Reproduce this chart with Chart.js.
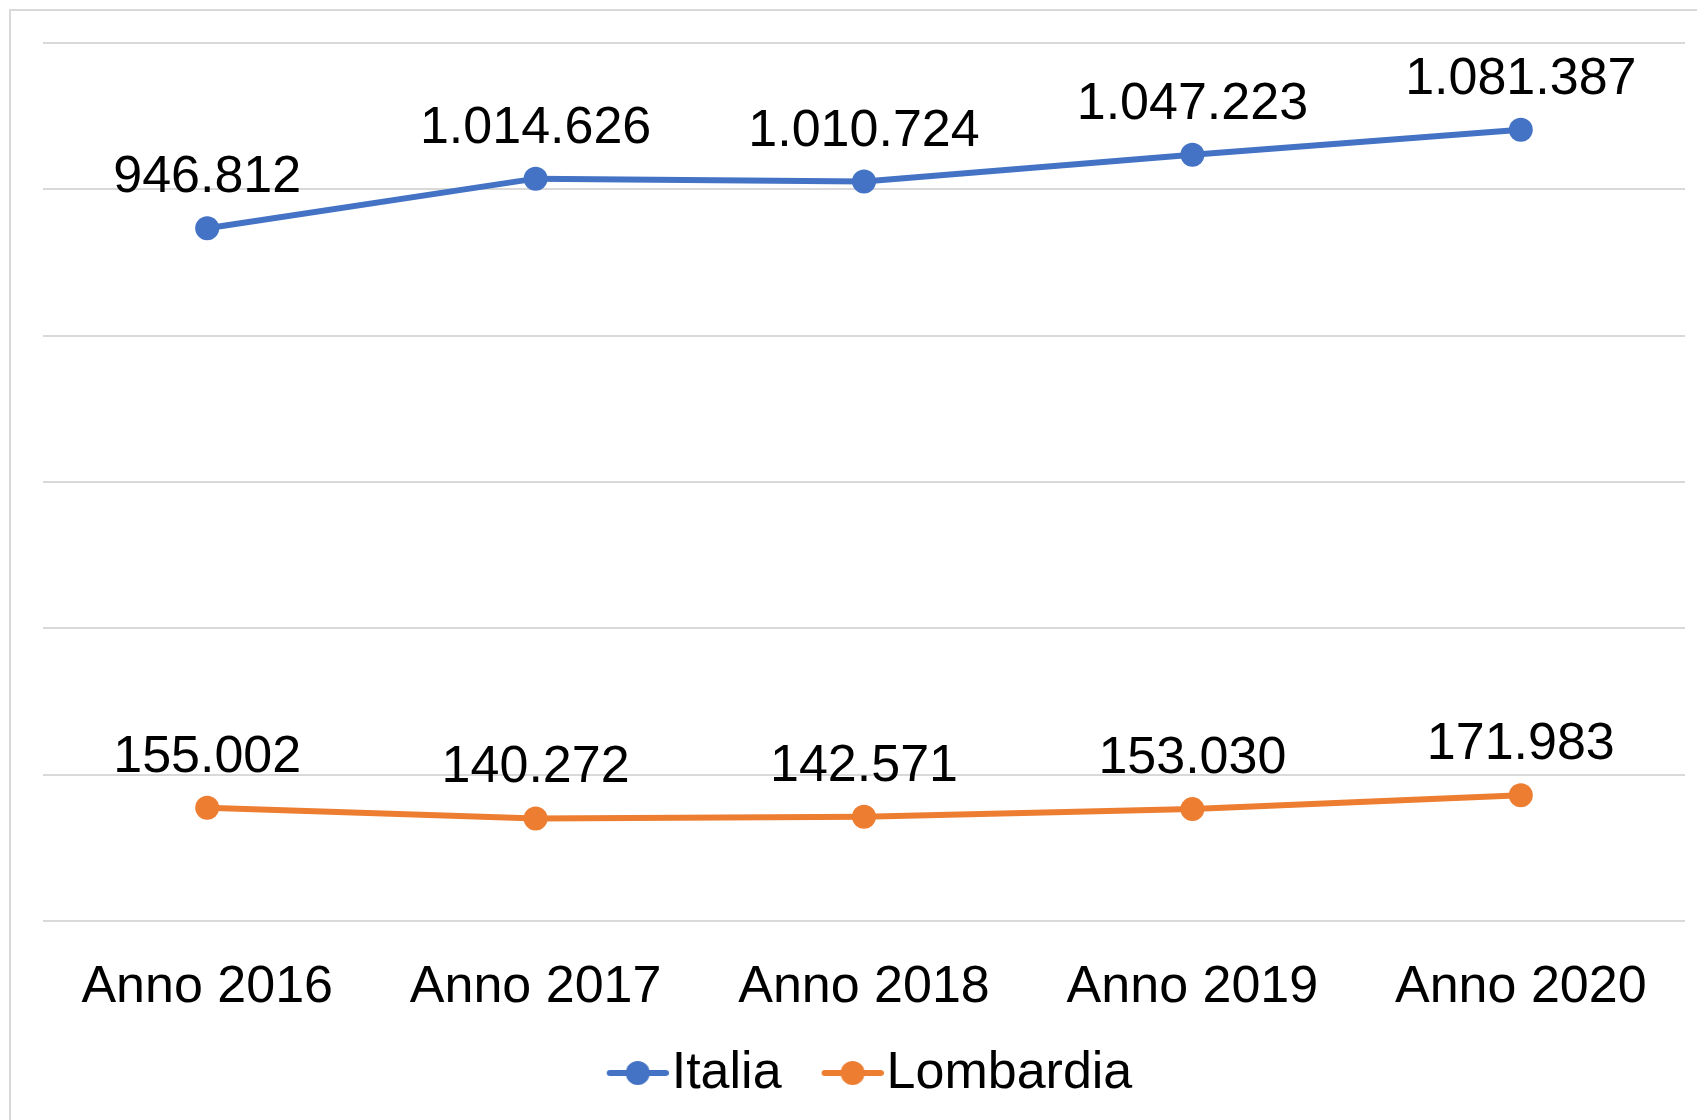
<!DOCTYPE html>
<html>
<head>
<meta charset="utf-8">
<script src="https://cdn.jsdelivr.net/npm/chart.js@4"></script>
<style>
html, body { margin: 0; padding: 0; background: #fff; }
</style>
</head>
<body>
<canvas id="grafico" width="1697" height="1120"></canvas>
<script>
// dati
const anni = ['Anno 2016', 'Anno 2017', 'Anno 2018', 'Anno 2019', 'Anno 2020']
const italia = [946812, 1014626, 1010724, 1047223, 1081387]
const lombardia = [155002, 140272, 142571, 153030, 171983]
const nomiSerie = ['Italia', 'Lombardia']
const colori = ['#4472C4', '#ED7D31']

const FONT = '"Liberation Sans", Arial, sans-serif'

// 946812 -> "946.812"
function formatta(n) {
    return String(n).replace(/\B(?=(\d{3})+(?!\d))/g, '.')
}

// simbolo della legenda: linea con pallino (disegnato a destra, il resto trasparente)
function marcatore(colore) {
    let c = document.createElement('canvas')
    c.width = 96
    c.height = 62
    let g = c.getContext('2d')
    let cy = 30
    g.strokeStyle = colore
    g.lineWidth = 6
    g.lineCap = 'round'
    g.beginPath()
    g.moveTo(37, cy)
    g.lineTo(93, cy)
    g.stroke()
    g.fillStyle = colore
    g.beginPath()
    g.arc(65, cy, 12, 0, 2 * Math.PI)
    g.fill()
    return c
}

// etichette con i valori sopra i punti
const etichette = {
    id: 'etichette',
    afterDatasetsDraw(chart) {
        let ctx = chart.ctx
        ctx.save()
        ctx.font = '52px ' + FONT
        ctx.fillStyle = '#000'
        ctx.textAlign = 'center'
        ctx.textBaseline = 'alphabetic'
        chart.data.datasets.forEach((ds, i) => {
            chart.getDatasetMeta(i).data.forEach((pt, j) => {
                ctx.fillText(formatta(ds.data[j]), pt.x, pt.y - 36)
            })
        })
        ctx.restore()
    }
}

// cornice grigia
const cornice = {
    id: 'cornice',
    beforeDraw(chart) {
        let ctx = chart.ctx
        ctx.save()
        ctx.strokeStyle = '#d9d9d9'
        ctx.lineWidth = 2
        ctx.strokeRect(10, 10, 1700, 1120)
        ctx.restore()
    }
}

let serie = [italia, lombardia].map((dati, i) => ({
    label: nomiSerie[i],
    data: dati,
    borderColor: colori[i],
    backgroundColor: colori[i],
    borderWidth: 6,
    pointRadius: 12,
    pointHoverRadius: 12,
    pointBorderWidth: 0,
    tension: 0
}))

new Chart(document.getElementById('grafico'), {
    type: 'line',
    data: { labels: anni, datasets: serie },
    plugins: [cornice, etichette],
    options: {
        responsive: false,
        animation: false,
        layout: { padding: { left: 43, right: 12, top: 43, bottom: 10 } },
        scales: {
            x: {
                offset: true,
                grid: { display: false, drawTicks: false },
                border: { display: false },
                ticks: { color: '#000', font: { family: FONT, size: 52 }, padding: 35, maxRotation: 0 },
                afterFit(scale) { scale.height -= 34.5 }
            },
            y: {
                min: 0,
                max: 1200000,
                grid: { color: '#d9d9d9', lineWidth: 2, drawTicks: false },
                border: { display: false },
                ticks: { display: false, stepSize: 200000 }
            }
        },
        plugins: {
            tooltip: { enabled: false },
            legend: {
                position: 'bottom',
                labels: {
                    color: '#000',
                    font: { family: FONT, size: 52 },
                    usePointStyle: true,
                    pointStyleWidth: 50,
                    padding: 29,
                    generateLabels(chart) {
                        let items = Chart.defaults.plugins.legend.labels.generateLabels(chart)
                        items.forEach(it => { it.pointStyle = marcatore(colori[it.datasetIndex]) })
                        return items
                    }
                }
            }
        }
    }
})
</script>
</body>
</html>
